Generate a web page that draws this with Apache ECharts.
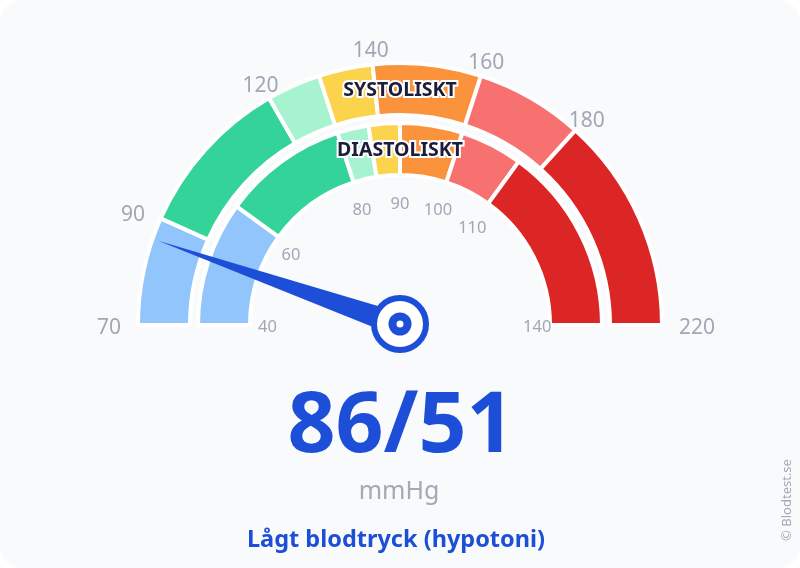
<!DOCTYPE html>
<html><head><meta charset="utf-8">
<script src="https://cdn.jsdelivr.net/npm/echarts@6/dist/echarts.min.js"></script>
<style>
html,body{margin:0;padding:0;background:#ffffff;}
#c{width:800px;height:568px;background:#f8fafc;border-radius:22px;overflow:hidden;}
</style>
</head><body><div id="c"></div>
<script>
// ---- data ----
const sysBounds = [70, 90, 120, 130, 140, 160, 180, 220];
const diaBounds = [40, 60, 80, 85, 90, 100, 110, 140];
const zoneColors = ['#93c5fd', '#34d399', '#a7f3d0', '#fcd34d', '#fb923c', '#f87171', '#dc2626'];
const sysTicks = [70, 90, 120, 140, 160, 180, 220];
const diaTicks = [40, 60, 80, 90, 100, 110, 140];
const systolic = 86;
const diastolic = 51;
const ringNames = ['SYSTOLISKT', 'DIASTOLISKT'];
const unitText = 'mmHg';
const statusText = 'Lågt blodtryck (hypotoni)';
const creditText = '© Blodtest.se';

// ---- layout / style ----
const CX = 400, CY = 325, RMAX = 262;
const SYS_RING = [211, 261], DIA_RING = [151, 201];
const BLUE = '#1d4ed8';
const FONT = '"Noto Sans", "Open Sans", sans-serif';

const chart = echarts.init(document.getElementById('c'), null, {renderer: 'canvas'});

function segData(bounds) {
  return bounds.slice(0, -1).map((b, i) => [b, bounds[i + 1], i]);
}
function angleOf(api, v) {
  const c = api.coord([0, v]);
  const p = api.coord([RMAX, v]);
  return {c: c, t: Math.atan2(p[1] - c[1], p[0] - c[0])};
}
function ringRender(ring) {
  return function (params, api) {
    const a = angleOf(api, api.value(0));
    const b = angleOf(api, api.value(1));
    let t0 = a.t, t1 = b.t;
    while (t1 < t0) t1 += Math.PI * 2;
    return {
      type: 'sector',
      shape: {cx: a.c[0], cy: a.c[1], r0: ring[0] - 1, r: ring[1] + 1, startAngle: t0, endAngle: t1, clockwise: true},
      style: {fill: zoneColors[api.value(2)], stroke: '#ffffff', lineWidth: 4}
    };
  };
}
function tickRender(R, size, color, dy) {
  return function (params, api) {
    const v = api.value(0);
    const p = api.coord([R, v]);
    const c = api.coord([0, v]);
    const cos = (p[0] - c[0]) / R;
    return {
      type: 'text', x: p[0], y: p[1] + dy,
      style: {
        text: String(v), fill: color, fontSize: size, fontFamily: FONT,
        align: cos < -0.8 ? 'right' : (cos > 0.8 ? 'left' : 'center'),
        verticalAlign: 'middle'
      }
    };
  };
}
function nameRender(ring, name) {
  return function (params, api) {
    const p = api.coord([(ring[0] + ring[1]) / 2, api.value(0)]);
    return {
      type: 'text', x: p[0], y: p[1] + 1,
      style: {
        text: name, fill: '#1b1d3a', fontSize: 19.5, fontWeight: 'bold', fontFamily: FONT,
        align: 'center', verticalAlign: 'middle', stroke: '#ffffff', lineWidth: 4
      }
    };
  };
}
function needleRender(params, api) {
  const v = api.value(0);
  const L = 256;
  const c = api.coord([0, v]);
  const tip = api.coord([L, v]);
  const dx = (tip[0] - c[0]) / L, dy = (tip[1] - c[1]) / L;
  const w = 12;
  return {
    type: 'group',
    children: [
      {type: 'polygon', shape: {points: [tip, [c[0] - dy * w, c[1] + dx * w], [c[0] + dy * w, c[1] - dx * w]]}, style: {fill: BLUE}},
      {type: 'circle', shape: {cx: c[0], cy: c[1] - 1, r: 26}, style: {fill: '#ffffff', stroke: BLUE, lineWidth: 6}},
      {type: 'circle', shape: {cx: c[0], cy: c[1] - 1, r: 11.5}, style: {fill: BLUE}},
      {type: 'circle', shape: {cx: c[0], cy: c[1] - 1, r: 3.5}, style: {fill: '#ffffff'}}
    ]
  };
}

const sysMin = sysBounds[0], sysMax = sysBounds[sysBounds.length - 1];
const diaMin = diaBounds[0], diaMax = diaBounds[diaBounds.length - 1];

chart.setOption({
  backgroundColor: 'transparent',
  animation: false,
  polar: [
    {center: [CX, CY], radius: [0, RMAX]},
    {center: [CX, CY], radius: [0, RMAX]}
  ],
  angleAxis: [
    {polarIndex: 0, type: 'value', min: sysMin, max: sysMin + 2 * (sysMax - sysMin), startAngle: 180, clockwise: true, show: false},
    {polarIndex: 1, type: 'value', min: diaMin, max: diaMin + 2 * (diaMax - diaMin), startAngle: 180, clockwise: true, show: false}
  ],
  radiusAxis: [
    {polarIndex: 0, type: 'value', min: 0, max: RMAX, show: false},
    {polarIndex: 1, type: 'value', min: 0, max: RMAX, show: false}
  ],
  series: [
    {type: 'custom', coordinateSystem: 'polar', polarIndex: 0, data: segData(sysBounds), renderItem: ringRender(SYS_RING), z: 1, silent: true},
    {type: 'custom', coordinateSystem: 'polar', polarIndex: 1, data: segData(diaBounds), renderItem: ringRender(DIA_RING), z: 1, silent: true},
    {type: 'custom', coordinateSystem: 'polar', polarIndex: 0, data: sysTicks.map(v => [v]), renderItem: tickRender(279, 21, '#a0a7b5', 3), z: 2, silent: true},
    {type: 'custom', coordinateSystem: 'polar', polarIndex: 1, data: diaTicks.map(v => [v]), renderItem: tickRender(123, 16.5, '#a0a7b5', 2.5), z: 2, silent: true},
    {type: 'custom', coordinateSystem: 'polar', polarIndex: 0, data: [[systolic]], renderItem: needleRender, z: 3, silent: true},
    {type: 'custom', coordinateSystem: 'polar', polarIndex: 0, data: [[(sysMin + sysMax) / 2]], renderItem: nameRender(SYS_RING, ringNames[0]), z: 4, silent: true},
    {type: 'custom', coordinateSystem: 'polar', polarIndex: 1, data: [[(diaMin + diaMax) / 2]], renderItem: nameRender(DIA_RING, ringNames[1]), z: 4, silent: true}
  ],
  graphic: [
    {type: 'text', x: 401, y: 428, style: {text: systolic + '/' + diastolic, fill: BLUE, fontSize: 84, fontWeight: 'bold', fontFamily: FONT, align: 'center', verticalAlign: 'middle'}},
    {type: 'text', x: 399, y: 492, style: {text: unitText, fill: '#a3a9b5', fontSize: 25, fontFamily: FONT, align: 'center', verticalAlign: 'middle'}},
    {type: 'text', x: 396, y: 540, style: {text: statusText, fill: BLUE, fontSize: 23.5, fontWeight: 'bold', fontFamily: FONT, align: 'center', verticalAlign: 'middle'}},
    {type: 'text', x: 787, y: 500, rotation: Math.PI / 2, style: {text: creditText, fill: '#a3a9b5', fontSize: 13, fontFamily: FONT, align: 'center', verticalAlign: 'middle'}}
  ]
});
</script>
</body></html>
